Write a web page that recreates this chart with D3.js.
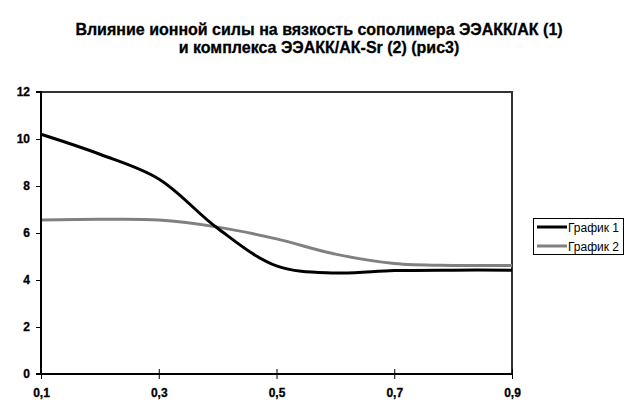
<!DOCTYPE html>
<html><head><meta charset="utf-8">
<script src="https://cdn.jsdelivr.net/npm/d3@7"></script>
<style>body{margin:0;background:#fff}svg{display:block}</style>
</head><body>
<svg id="c" width="637" height="420"></svg>
<script>
const categories = [0.1, 0.2, 0.3, 0.4, 0.5, 0.6, 0.7, 0.8, 0.9];
const series1 = [10.2, 9.35, 8.3, 6.2, 4.6, 4.3, 4.4, 4.42, 4.42];
const series2 = [6.55, 6.58, 6.55, 6.25, 5.75, 5.1, 4.7, 4.62, 4.62];
const seriesNames = ["График 1", "График 2"];
const xTickLabels = ["0,1", "0,3", "0,5", "0,7", "0,9"];
const xTickValues = [0.1, 0.3, 0.5, 0.7, 0.9];
const yTicks = [0, 2, 4, 6, 8, 10, 12];
const titleLines = ["Влияние ионной силы на вязкость сополимера ЭЭАКК/АК (1)", "и комплекса ЭЭАКК/АК-Sr (2) (рис3)"];

const svg = d3.select("#c");
const L = 41, R = 512, T = 92, B = 374;
const x = d3.scaleLinear().domain([0.1, 0.9]).range([L, R]);
const y = d3.scaleLinear().domain([0, 12]).range([B, T]);
const FF = "Liberation Sans, Arial, sans-serif";

// title
svg.append("g").selectAll("text").data(titleLines).enter().append("text")
  .attr("x", 319).attr("y", (d, i) => 35 + i * 17.5)
  .attr("text-anchor", "middle")
  .attr("font-family", FF)
  .attr("font-weight", "bold").attr("font-size", "16px")
  .attr("stroke", "#000").attr("stroke-width", 0.3)
  .text(d => d);

// plot border (top & right)
svg.append("path").attr("d", `M${L},${T}H${R}V${B}`)
  .attr("fill", "none").attr("stroke", "#333").attr("stroke-width", 2);

// lines
const line = d3.line().x((d, i) => x(categories[i])).y(d => y(d)).curve(d3.curveCatmullRom.alpha(0.5));
svg.append("path").datum(series2).attr("d", line)
  .attr("fill", "none").attr("stroke", "#808080").attr("stroke-width", 3);
svg.append("path").datum(series1).attr("d", line)
  .attr("fill", "none").attr("stroke", "#000").attr("stroke-width", 3);

// axes
const fontAxis = g => g.selectAll("text")
  .attr("font-family", FF)
  .attr("font-weight", "bold").attr("font-size", "12px").attr("fill", "#000")
  .attr("stroke", "#000").attr("stroke-width", 0.3);
const yAxis = d3.axisLeft(y).tickValues(yTicks).tickSize(5).tickPadding(6).tickFormat(d3.format("d"));
svg.append("g").attr("transform", `translate(${L},0)`).call(yAxis).call(fontAxis)
  .call(g => g.select(".domain").attr("stroke-width", 2).attr("d", `M-5,${T}H0V${B}H-5`))
  .call(g => g.selectAll(".tick line").attr("stroke-width", 1));
const xAxis = d3.axisBottom(x).tickValues(xTickValues).tickSize(5).tickPadding(9)
  .tickFormat((d, i) => xTickLabels[i]);
svg.append("g").attr("transform", `translate(0,${B})`).call(xAxis).call(fontAxis)
  .call(g => g.select(".domain").attr("stroke-width", 2).attr("d", `M${L},0H${R}`))
  .call(g => g.selectAll(".tick line").attr("y1", -5).attr("y2", 5).attr("stroke-width", 1));

// legend
const lg = svg.append("g");
lg.append("rect").attr("x", 533.5).attr("y", 218.5).attr("width", 90).attr("height", 36)
  .attr("fill", "#fff").attr("stroke", "#000").attr("stroke-width", 1);
const colors = ["#000", "#808080"];
seriesNames.forEach((n, i) => {
  const yy = 227 + i * 19;
  lg.append("line").attr("x1", 537).attr("x2", 567).attr("y1", yy).attr("y2", yy)
    .attr("stroke", colors[i]).attr("stroke-width", 3);
  lg.append("text").attr("x", 568).attr("y", yy + 4.5)
    .attr("font-family", FF).attr("font-size", "12px")
    .text(n);
});
</script>
</body></html>
